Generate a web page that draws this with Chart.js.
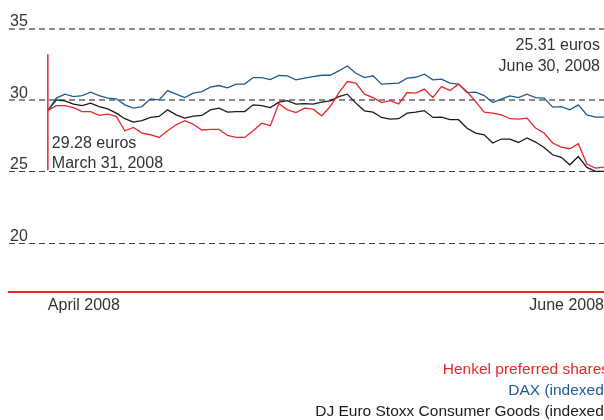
<!DOCTYPE html>
<html>
<head>
<meta charset="utf-8">
<script src="https://cdn.jsdelivr.net/npm/chart.js@4.4.0/dist/chart.umd.min.js"></script>
<style>
  html, body { margin: 0; padding: 0; background: #fff; }
  #chart { display: block; }
</style>
</head>
<body>
<canvas id="chart" width="604" height="420"></canvas>
<script>
// series (trading days, March 31 - June 30, 2008), values in euros / indexed to Henkel
const henkel = [29.28, 29.62, 29.62, 29.48, 29.2, 29.2, 28.93, 29.02, 28.86, 27.86,
  28.09, 27.7, 27.58, 27.39, 27.86, 28.28, 28.56, 28.31, 27.91, 27.95,
  27.95, 27.53, 27.39, 27.39, 27.86, 28.39, 28.21, 29.76, 29.32, 29.13,
  29.44, 29.37, 28.9, 29.55, 30.51, 31.3, 31.19, 30.42, 30.18, 29.83,
  29.97, 29.74, 30.53, 30.49, 30.77, 30.18, 30.95, 30.67, 31.12, 30.58,
  29.9, 29.16, 29.09, 28.97, 28.7, 28.67, 28.74, 28.05, 27.7, 27.0,
  26.72, 26.6, 26.95, 25.53, 25.25, 25.31];
const dax = [29.28, 30.14, 30.42, 30.25, 30.32, 30.56, 30.32, 30.14, 30.09, 29.67,
  29.44, 29.55, 30.09, 30.02, 30.67, 30.42, 30.18, 30.49, 30.6, 30.91,
  31.02, 30.86, 31.12, 31.12, 31.58, 31.58, 31.44, 31.72, 31.7, 31.42,
  31.54, 31.65, 31.74, 31.74, 32.04, 32.39, 31.88, 31.58, 31.7, 31.12,
  31.16, 31.19, 31.54, 31.6, 31.81, 31.42, 31.47, 31.19, 31.12, 30.52,
  30.56, 30.32, 29.83, 30.07, 30.3, 30.18, 30.42, 30.18, 30.14, 29.51,
  29.55, 29.32, 29.67, 28.97, 28.81, 28.81];
const djStoxx = [29.28, 30.02, 29.95, 29.72, 29.62, 29.79, 29.55, 29.39, 29.09, 28.7,
  28.46, 28.56, 28.79, 28.86, 29.32, 28.97, 28.74, 28.88, 28.93, 29.32,
  29.44, 29.16, 29.2, 29.2, 29.67, 29.62, 29.48, 29.86, 29.97, 29.72,
  29.76, 29.72, 29.86, 29.95, 30.25, 30.42, 29.79, 29.25, 29.16, 28.79,
  28.67, 28.7, 29.09, 29.16, 29.27, 28.79, 28.81, 28.63, 28.63, 28.03,
  27.7, 27.58, 27.0, 27.28, 27.28, 27.04, 27.35, 27.07, 26.69, 26.18,
  26.0, 25.48, 26.06, 25.3, 25.02, 25.02];

const seriesNames = ['Henkel preferred shares', 'DAX (indexed)', 'DJ Euro Stoxx Consumer Goods (indexed)'];
const seriesColors = ['#e8262c', '#1d5a96', '#1a1a1a'];
const xTickLabels = ['April 2008', 'June 2008'];
const yTickValues = [20, 25, 30, 35];
const annotationDates = ['March 31, 2008', 'June 30, 2008'];
const markerRange = [25.1, 33.2]; // red vertical marker at the start

const FONT = "'Liberation Sans', Arial, Helvetica, sans-serif";
const lastIndex = henkel.length - 1;

const toPoints = arr => arr.map((v, i) => ({ x: i, y: v }));

// annotations + right aligned text legend
const annotations = {
  id: 'annotations',
  afterDatasetsDraw(chart) {
    const { ctx, chartArea, scales: { x, y } } = chart;
    const x0 = x.getPixelForValue(0);
    ctx.save();
    ctx.strokeStyle = seriesColors[0];
    ctx.lineWidth = 1.5;
    ctx.beginPath();
    ctx.moveTo(x0, y.getPixelForValue(markerRange[1]));
    ctx.lineTo(x0, y.getPixelForValue(markerRange[0]));
    ctx.stroke();

    ctx.font = '16px ' + FONT;
    ctx.fillStyle = '#333';
    ctx.textBaseline = 'middle';
    ctx.textAlign = 'left';
    ctx.fillText(henkel[0].toFixed(2) + ' euros', x0 + 4, 143.5);
    ctx.fillText(annotationDates[0], x0 + 4, 163.5);
    ctx.textAlign = 'right';
    ctx.fillText(henkel[lastIndex].toFixed(2) + ' euros', chartArea.right - 4, 46);
    ctx.fillText(annotationDates[1], chartArea.right - 4, 67);

    // legend, runs past the right edge like the original
    ctx.font = '15.5px ' + FONT;
    chart.data.datasets.forEach((ds, i) => {
      ctx.fillStyle = ds.borderColor;
      ctx.fillText(ds.label, chartArea.right + 5, 370 + i * 20.7);
    });
    ctx.restore();
  }
};

new Chart(document.getElementById('chart').getContext('2d'), {
  type: 'line',
  data: {
    datasets: seriesNames.map((name, i) => ({
      label: name,
      data: toPoints([henkel, dax, djStoxx][i]),
      borderColor: seriesColors[i],
      borderWidth: 1.3,
      pointRadius: 0,
      tension: 0,
    })),
  },
  options: {
    responsive: false,
    animation: false,
    layout: { padding: { left: 7, right: 0, top: 0, bottom: 101 } },
    plugins: {
      legend: { display: false },
      tooltip: { enabled: false },
    },
    scales: {
      x: {
        type: 'linear',
        min: -4.54,
        max: lastIndex,
        afterBuildTicks: scale => { scale.ticks = [{ value: 0 }, { value: lastIndex }]; },
        grid: { display: false, drawTicks: false },
        border: { display: true, color: '#e8262c', width: 2 },
        ticks: {
          align: 'inner',
          autoSkip: false,
          maxRotation: 0,
          padding: 0,
          color: '#333',
          font: { family: FONT, size: 16, lineHeight: 1.7 },
          callback: (v, i) => xTickLabels[i],
        },
      },
      y: {
        min: 16.6,
        max: 37,
        afterBuildTicks: scale => { scale.ticks = yTickValues.map(v => ({ value: v })); },
        // labels sit above the lines, so no extra room needed at top
        afterFit: scale => { scale.paddingTop = 0; scale.paddingBottom = 0; },
        grid: {
          drawTicks: false,
          color: c => (c.tick && c.tick.value >= 30 ? '#8a8a8a' : '#444'),
          lineWidth: c => (c.tick && c.tick.value >= 30 ? 2 : 1),
        },
        border: { display: false, dash: [6, 4] },
        ticks: {
          mirror: true,
          align: 'end',
          padding: 1,
          labelOffset: 1,
          color: '#333',
          font: { family: FONT, size: 16 },
        },
      },
    },
  },
  plugins: [annotations],
});
</script>
</body>
</html>
